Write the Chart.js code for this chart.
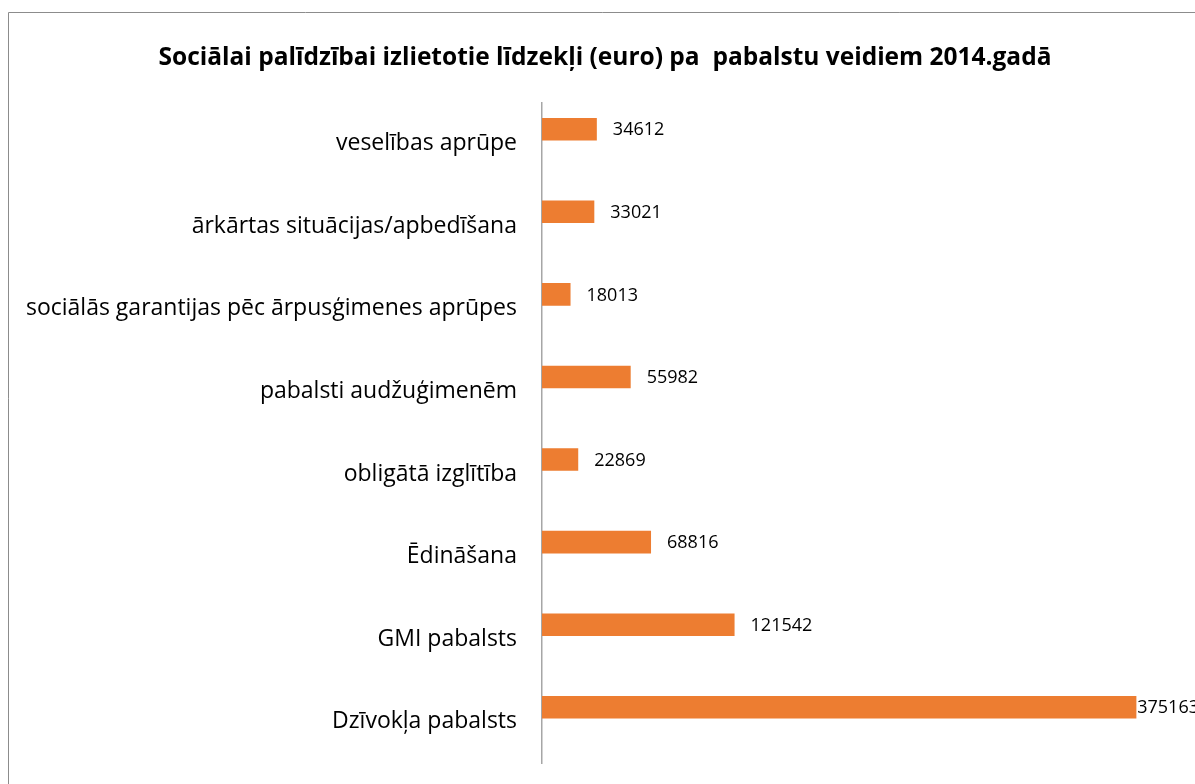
<!DOCTYPE html>
<html>
<head>
<meta charset="utf-8">
<script src="https://cdn.jsdelivr.net/npm/chart.js@4"></script>
<style>
  html, body { margin: 0; padding: 0; background: #fff; }
  #wrap { width: 1195px; height: 784px; }
</style>
</head>
<body>
<div id="wrap"><canvas id="chart" width="1195" height="784"></canvas></div>
<script>
const chartTitle = "Sociālai palīdzībai izlietotie līdzekļi (euro) pa  pabalstu veidiem 2014.gadā";

const categories = [
    "veselības aprūpe",
    "ārkārtas situācijas/apbedīšana",
    "sociālās garantijas pēc ārpusģimenes aprūpes",
    "pabalsti audžuģimenēm",
    "obligātā izglītība",
    "Ēdināšana",
    "GMI pabalsts",
    "Dzīvokļa pabalsts"
];

const amounts = [34612, 33021, 18013, 55982, 22869, 68816, 121542, 375163];

// empty second series, Excel left room for it in every band
const emptySeries = categories.map(() => null);

const barColor = "#ED7D31";

// outer frame (only top and left edges fall inside the picture)
const framePlugin = {
    id: "frame",
    beforeDraw(chart) {
        const ctx = chart.ctx;
        ctx.save();
        ctx.strokeStyle = "#8c8c8c";
        ctx.lineWidth = 1;
        ctx.beginPath();
        ctx.moveTo(8.5, chart.height + 5);
        ctx.lineTo(8.5, 12.5);
        ctx.lineTo(chart.width + 5, 12.5);
        ctx.stroke();
        ctx.restore();
    }
};

// value labels at the end of each bar
const valueLabels = {
    id: "valueLabels",
    afterDatasetsDraw(chart) {
        const ctx = chart.ctx;
        const meta = chart.getDatasetMeta(0);
        ctx.save();
        ctx.font = "18px 'Open Sans'";
        ctx.fillStyle = "#000";
        ctx.textBaseline = "middle";
        meta.data.forEach((bar, i) => {
            const text = String(amounts[i]);
            const w = ctx.measureText(text).width;
            let x = bar.x + 16;
            if (x + w > chart.width + 4) x = chart.width + 4 - w;
            ctx.fillText(text, x, bar.y + 1);
        });
        ctx.restore();
    }
};

new Chart(document.getElementById("chart"), {
    type: "bar",
    data: {
        labels: categories,
        datasets: [
            {
                data: amounts,
                backgroundColor: barColor,
                barPercentage: 0.78,
                categoryPercentage: 0.70
            },
            {
                data: emptySeries,
                backgroundColor: barColor,
                barPercentage: 0.78,
                categoryPercentage: 0.70
            }
        ]
    },
    options: {
        indexAxis: "y",
        responsive: false,
        animation: false,
        layout: { padding: { left: 20, right: 5, top: 0, bottom: 21 } },
        plugins: {
            legend: { display: false },
            tooltip: { enabled: false },
            title: {
                display: true,
                text: chartTitle,
                color: "#000",
                font: { family: "'Open Sans'", size: 24.5, weight: "bold", lineHeight: 1.2 },
                padding: { top: 43, bottom: 30 }
            }
        },
        scales: {
            x: {
                display: false,
                min: 0,
                max: 409000
            },
            y: {
                afterFit(scale) {
                    scale.width = 522;
                    scale.paddingTop = 0;
                    scale.paddingBottom = 0;
                },
                grid: { display: false, drawTicks: false },
                border: { display: true, color: "#a6a6a6", width: 1.5 },
                ticks: {
                    color: "#000",
                    padding: 25,
                    font: { family: "'Open Sans'", size: 23 }
                }
            }
        }
    },
    plugins: [framePlugin, valueLabels]
});
</script>
</body>
</html>
